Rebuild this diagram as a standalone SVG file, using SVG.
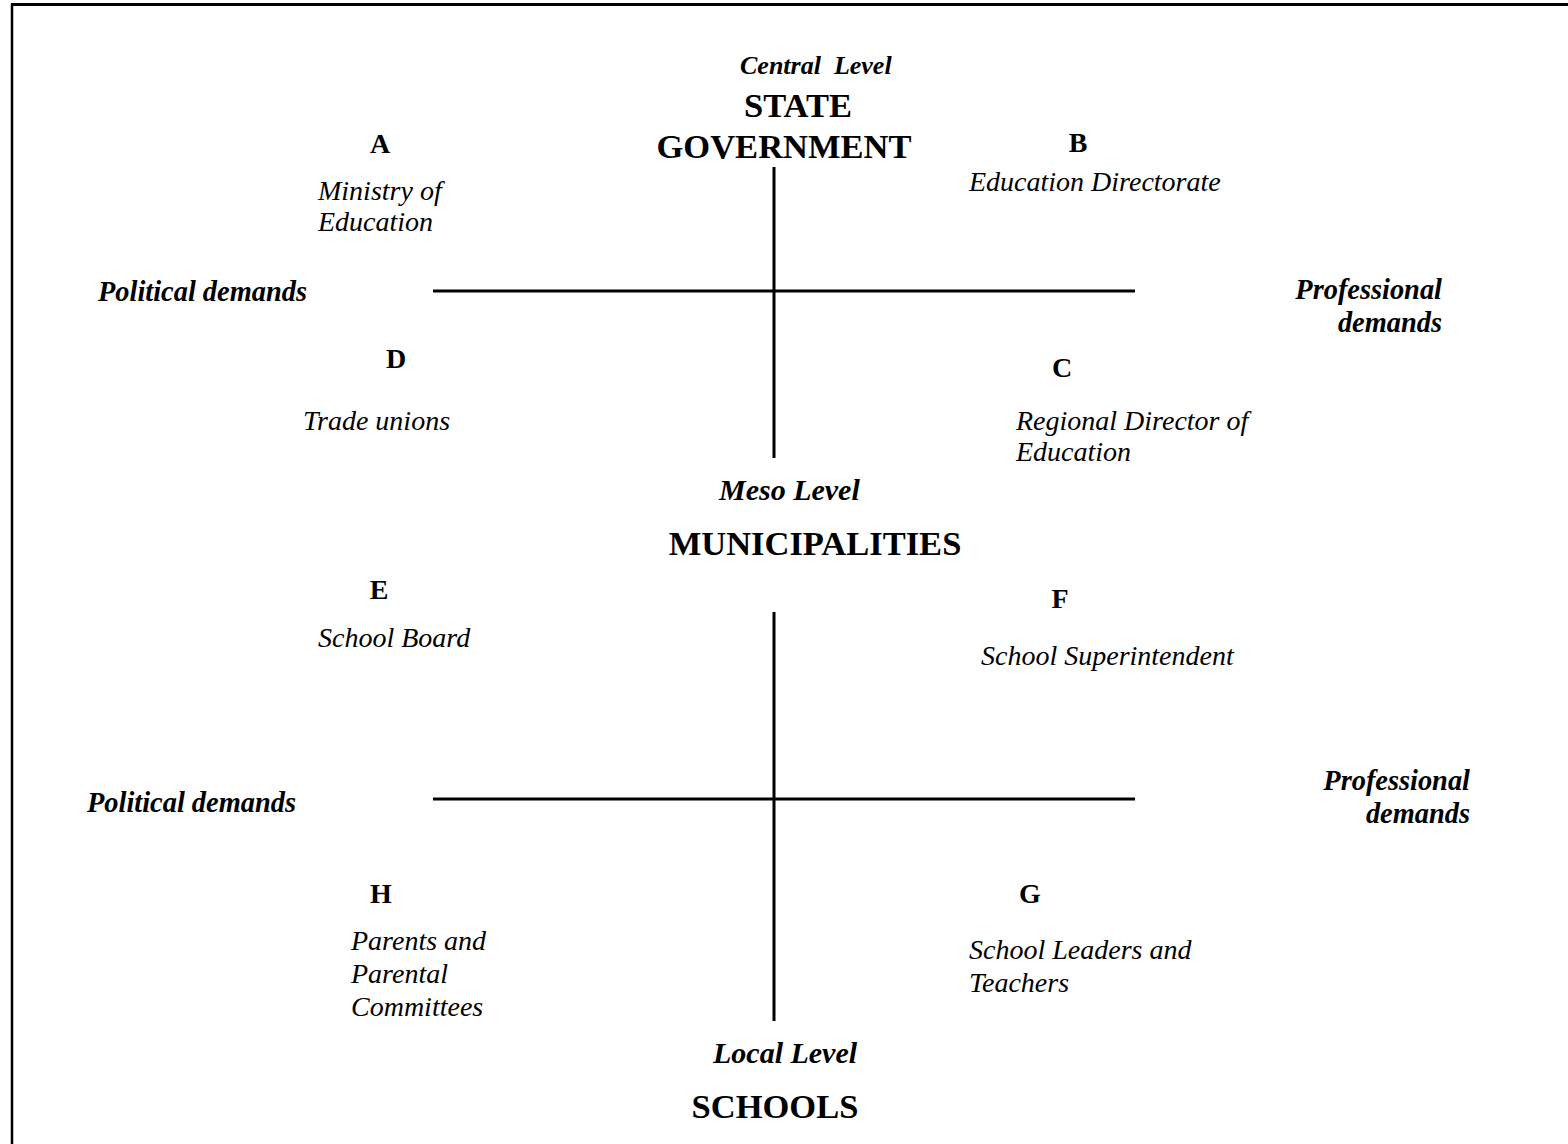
<svg xmlns="http://www.w3.org/2000/svg" width="1568" height="1144" viewBox="0 0 1568 1144">
<style>
text{font-family:"Liberation Serif","Times New Roman",serif;fill:#000}
.lvl{font-size:26px;font-weight:bold;font-style:italic;white-space:pre}
.lvl2{font-size:30px;font-weight:bold;font-style:italic}
.big{font-size:34.5px;font-weight:bold}
.let{font-size:28px;font-weight:bold}
.it{font-size:28px;font-style:italic}
.dem{font-size:28.4px;font-weight:bold;font-style:italic}
.ln{stroke:#000;stroke-width:3;fill:none}
</style>
<rect width="1568" height="1144" fill="#fff"/>
<g id="frame">
<line x1="12" y1="4" x2="12" y2="1144" stroke="#000" stroke-width="2.5"/>
<line x1="11" y1="4.5" x2="1568" y2="4.5" stroke="#000" stroke-width="3"/>
</g>
<g id="connectors">
<line class="ln" x1="774" y1="167" x2="774" y2="458"/>
<line class="ln" x1="433" y1="291" x2="1135" y2="291"/>
<line class="ln" x1="774" y1="612" x2="774" y2="1021"/>
<line class="ln" x1="433" y1="799" x2="1135" y2="799"/>
</g>
<g id="central">
<text class="lvl" x="740" y="74">Central  Level</text>
<text class="big" x="798" y="117" text-anchor="middle">STATE</text>
<text class="big" x="784" y="158" text-anchor="middle">GOVERNMENT</text>
</g>
<g id="meso">
<text class="lvl2" x="719" y="500">Meso Level</text>
<text class="big" x="815" y="555" text-anchor="middle">MUNICIPALITIES</text>
</g>
<g id="local">
<text class="lvl2" x="713" y="1063">Local Level</text>
<text class="big" x="775" y="1118" text-anchor="middle">SCHOOLS</text>
</g>
<g id="demands-top">
<text class="dem" x="98" y="301">Political demands</text>
<text class="dem" x="1442" y="299" text-anchor="end">Professional</text>
<text class="dem" x="1442" y="332" text-anchor="end">demands</text>
</g>
<g id="demands-bottom">
<text class="dem" x="87" y="812">Political demands</text>
<text class="dem" x="1470" y="790" text-anchor="end">Professional</text>
<text class="dem" x="1470" y="823" text-anchor="end">demands</text>
</g>
<g id="node-A">
<text class="let" x="380" y="153" text-anchor="middle">A</text>
<text class="it" x="318" y="200">Ministry of</text>
<text class="it" x="318" y="231">Education</text>
</g>
<g id="node-B">
<text class="let" x="1078" y="152" text-anchor="middle">B</text>
<text class="it" x="969" y="191">Education Directorate</text>
</g>
<g id="node-C">
<text class="let" x="1062" y="377" text-anchor="middle">C</text>
<text class="it" x="1016" y="430">Regional Director of</text>
<text class="it" x="1016" y="461">Education</text>
</g>
<g id="node-D">
<text class="let" x="396" y="368" text-anchor="middle">D</text>
<text class="it" x="303" y="430">Trade unions</text>
</g>
<g id="node-E">
<text class="let" x="379" y="599" text-anchor="middle">E</text>
<text class="it" x="318" y="647">School Board</text>
</g>
<g id="node-F">
<text class="let" x="1060" y="608" text-anchor="middle">F</text>
<text class="it" x="981" y="665">School Superintendent</text>
</g>
<g id="node-G">
<text class="let" x="1030" y="903" text-anchor="middle">G</text>
<text class="it" x="969" y="959">School Leaders and</text>
<text class="it" x="969" y="992">Teachers</text>
</g>
<g id="node-H">
<text class="let" x="381" y="903" text-anchor="middle">H</text>
<text class="it" x="351" y="950">Parents and</text>
<text class="it" x="351" y="983">Parental</text>
<text class="it" x="351" y="1016">Committees</text>
</g>
</svg>
